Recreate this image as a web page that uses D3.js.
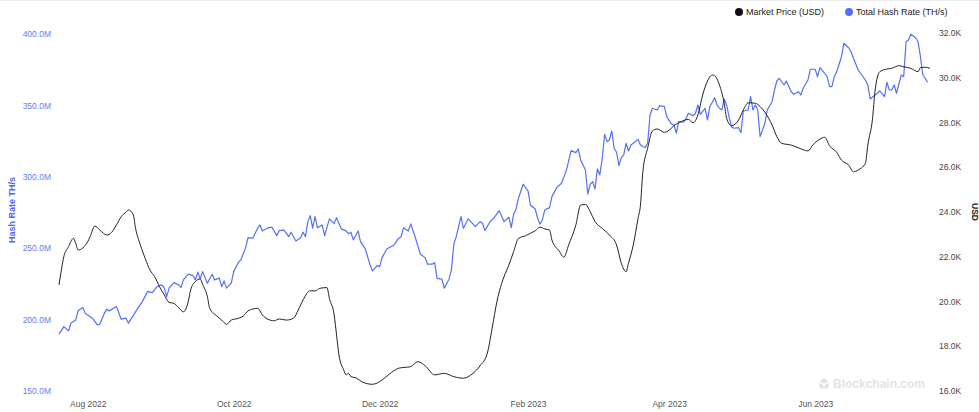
<!DOCTYPE html>
<html>
<head>
<meta charset="utf-8">
<script src="https://cdn.jsdelivr.net/npm/d3@7"></script>
<style>
  body { margin: 0; background: #fff; }
  svg { display: block; font-family: 'Liberation Sans', Arial, sans-serif; }
</style>
</head>
<body>
<svg id="chart" width="979" height="412"></svg>
<script>
// day offsets are counted from START (7-day averaged series)
const START = '2022-07-20'

const HASH_DAY = [0, 2, 4, 5, 7, 8, 10, 11, 14, 16, 17, 19, 20, 21, 24, 26, 28, 29, 31, 33, 35, 37, 39, 41, 43, 44, 45, 46, 48, 50, 51, 52, 54, 56, 57, 58, 59, 60, 62, 64, 65, 67, 68, 69, 70, 72, 73, 75, 76, 78, 79, 81, 83, 84, 85, 87, 89, 91, 92, 94, 96, 97, 99, 101, 102, 103, 104, 105, 106, 107, 108, 110, 111, 113, 115, 116, 118, 120, 121, 122, 123, 125, 126, 128, 130, 131, 133, 134, 135, 137, 140, 142, 143, 144, 146, 147, 149, 151, 153, 154, 156, 157, 158, 160, 161, 163, 164, 165, 166, 168, 169, 171, 174, 176, 177, 178, 180, 182, 184, 186, 188, 189, 190, 191, 192, 194, 196, 197, 199, 200, 201, 202, 203, 205, 206, 208, 210, 212, 213, 214, 216, 217, 218, 220, 221, 222, 223, 224, 225, 226, 227, 228, 229, 230, 231, 232, 233, 234, 235, 236, 237, 238, 239, 240, 242, 243, 245, 246, 247, 248, 250, 251, 253, 254, 256, 257, 258, 259, 261, 262, 263, 265, 266, 267, 268, 270, 271, 272, 274, 275, 276, 277, 278, 279, 280, 281, 282, 284, 285, 286, 288, 289, 290, 291, 292, 293, 295, 296, 298, 299, 300, 301, 303, 304, 306, 307, 309, 310, 311, 313, 314, 316, 317, 318, 320, 321, 322, 323, 324, 325, 327, 328, 330, 331, 332, 334, 337, 338, 339, 341, 342, 343, 345, 346, 347, 348, 349, 350, 352, 353, 354, 355, 356, 358, 359, 360, 361, 362, 363]

// Total Hash Rate, millions of TH/s
const HASH_VALUE = [189.8, 195.1, 192.1, 197.7, 199.8, 206.3, 208.4, 204.2, 201.0, 196.3, 196.8, 204.5, 207.3, 206.1, 209.1, 200.3, 201.0, 197.5, 202.8, 208.0, 213.1, 219.6, 218.9, 223.1, 224.3, 222.0, 216.1, 222.0, 225.9, 224.3, 222.4, 227.8, 231.8, 230.8, 227.8, 233.2, 228.5, 233.6, 225.5, 231.8, 227.8, 229.0, 223.1, 227.1, 222.0, 225.5, 233.6, 240.2, 241.8, 250.4, 257.4, 257.0, 264.0, 266.3, 262.1, 264.0, 264.7, 258.8, 262.3, 262.6, 258.1, 261.2, 255.1, 257.4, 261.2, 258.1, 268.6, 272.8, 264.0, 272.1, 264.4, 266.3, 258.8, 270.5, 267.2, 271.4, 263.5, 262.1, 260.1, 261.2, 255.8, 262.1, 254.6, 249.5, 238.3, 234.1, 237.8, 237.1, 243.4, 249.5, 252.3, 257.0, 258.1, 264.4, 262.1, 267.0, 257.0, 245.8, 243.4, 238.8, 238.8, 239.9, 228.9, 228.3, 222.0, 228.3, 234.8, 252.8, 258.1, 272.1, 264.0, 270.5, 265.1, 268.6, 267.5, 262.3, 268.2, 271.7, 276.3, 268.6, 271.7, 264.4, 273.8, 277.5, 285.0, 294.8, 290.1, 280.3, 277.5, 271.0, 266.8, 269.8, 276.8, 278.4, 286.1, 292.4, 295.5, 304.3, 311.1, 318.3, 316.9, 319.5, 311.8, 304.8, 287.8, 294.8, 296.6, 291.5, 305.5, 301.3, 312.5, 329.8, 324.6, 325.8, 332.1, 320.0, 317.2, 307.8, 313.4, 315.3, 323.5, 318.1, 322.3, 323.5, 326.2, 322.3, 320.4, 323.5, 343.3, 348.0, 346.8, 349.8, 349.1, 342.1, 336.8, 336.3, 330.5, 338.6, 338.2, 340.5, 344.5, 342.8, 344.5, 350.3, 343.8, 348.0, 339.8, 349.1, 355.4, 350.3, 348.0, 346.8, 354.5, 350.3, 342.1, 335.1, 334.0, 334.4, 330.9, 346.1, 346.8, 356.1, 346.8, 350.3, 346.8, 328.1, 337.5, 346.8, 352.6, 360.8, 367.1, 369.0, 364.3, 367.1, 359.6, 357.8, 359.6, 357.3, 362.0, 367.8, 375.3, 375.3, 370.1, 376.4, 372.5, 370.1, 363.1, 363.1, 370.1, 373.6, 384.1, 393.5, 390.4, 387.6, 383.0, 374.8, 367.8, 364.3, 354.5, 357.3, 358.5, 360.1, 356.1, 366.2, 360.8, 360.8, 364.3, 358.5, 371.3, 370.1, 394.6, 395.8, 399.8, 397.4, 394.6, 384.1, 371.3, 369.0, 366.2]

const PRICE_DAY = [0, 1, 2, 4, 6, 7, 8, 10, 12, 13, 15, 17, 20, 22, 24, 26, 28, 29, 31, 32, 34, 36, 38, 40, 42, 44, 46, 48, 50, 52, 54, 55, 57, 59, 60, 62, 63, 66, 68, 70, 72, 75, 77, 79, 81, 83, 85, 87, 90, 92, 95, 98, 100, 102, 105, 107, 109, 112, 113, 115, 116, 117, 119, 120, 121, 122, 124, 127, 131, 135, 138, 142, 147, 150, 153, 157, 161, 165, 169, 173, 176, 179, 181, 183, 185, 188, 190, 192, 195, 197, 199, 201, 203, 205, 206, 209, 211, 213, 216, 218, 220, 222, 224, 227, 230, 233, 235, 237, 238, 240, 242, 243, 244, 246, 248, 250, 253, 255, 257, 260, 263, 265, 267, 269, 271, 273, 274, 276, 278, 279, 281, 284, 286, 288, 291, 293, 295, 298, 300, 302, 306, 309, 313, 315, 318, 320, 322, 325, 327, 330, 332, 334, 337, 338, 340, 341, 343, 346, 348, 351, 353, 356, 359, 360, 362, 364]

// Market Price, thousands of USD
const PRICE_VALUE = [20.74, 21.41, 22.00, 22.45, 22.82, 22.60, 22.30, 22.40, 22.67, 22.90, 23.37, 23.20, 22.97, 23.09, 23.42, 23.79, 23.99, 24.09, 23.90, 23.27, 22.53, 21.93, 21.41, 21.11, 20.66, 20.29, 19.96, 19.92, 19.72, 19.54, 19.99, 20.51, 20.89, 21.01, 20.77, 20.22, 19.70, 19.35, 19.17, 18.98, 19.17, 19.25, 19.35, 19.58, 19.66, 19.70, 19.40, 19.22, 19.14, 19.22, 19.17, 19.25, 19.62, 20.07, 20.48, 20.47, 20.59, 20.62, 20.14, 19.40, 18.50, 17.61, 16.94, 16.72, 16.79, 16.64, 16.59, 16.39, 16.30, 16.49, 16.75, 17.02, 17.09, 17.31, 17.13, 16.72, 16.79, 16.64, 16.57, 16.79, 17.13, 17.69, 18.80, 19.99, 20.81, 21.63, 22.23, 22.82, 22.94, 23.05, 23.16, 23.32, 23.24, 23.20, 22.75, 22.26, 21.98, 22.53, 23.42, 24.31, 24.34, 24.01, 23.57, 23.27, 22.97, 22.53, 21.71, 21.33, 21.71, 22.53, 23.72, 24.31, 25.80, 26.85, 27.62, 27.71, 27.56, 27.66, 27.86, 28.04, 28.14, 27.99, 28.34, 29.23, 29.85, 30.12, 30.09, 29.68, 28.86, 28.19, 27.86, 28.11, 28.56, 28.88, 28.86, 28.71, 28.46, 27.89, 27.37, 27.07, 26.99, 26.87, 26.73, 26.99, 27.26, 27.34, 26.96, 26.67, 26.32, 26.10, 25.80, 25.88, 26.18, 26.99, 28.19, 29.38, 30.27, 30.39, 30.42, 30.54, 30.49, 30.42, 30.27, 30.45, 30.47, 30.42]

const HASH_TICKS = [150, 200, 250, 300, 350, 400]
const PRICE_TICKS = [16, 18, 20, 22, 24, 26, 28, 30, 32]
const MONTH_TICKS = ['2022-08-01', '2022-10-01', '2022-12-01', '2023-02-01', '2023-04-01', '2023-06-01']
const END = '2023-07-19'

const LEGEND = [
  { label: 'Market Price (USD)', color: '#111111' },
  { label: 'Total Hash Rate (TH/s)', color: '#5470f6' }
]

const BLUE = '#5470f6'
const width = 979, height = 412
const margin = { top: 34, right: 49, bottom: 21, left: 59 }

const svg = d3.select('#chart')
const parse = d3.utcParse('%Y-%m-%d')
const start = parse(START)

const hashData = HASH_DAY.map((d, i) => ({ date: d3.utcDay.offset(start, d), value: HASH_VALUE[i] }))
const priceData = PRICE_DAY.map((d, i) => ({ date: d3.utcDay.offset(start, d), value: PRICE_VALUE[i] }))

const x = d3.scaleUtc()
  .domain([start, parse(END)])
  .range([margin.left, width - margin.right])

const yHash = d3.scaleLinear().domain([150, 400]).range([height - margin.bottom, margin.top])
const yPrice = d3.scaleLinear().domain([16, 32]).range([height - margin.bottom, margin.top - 1])

svg.append('rect').attr('width', width).attr('height', height).attr('fill', '#fff')
svg.append('line').attr('x1', 0).attr('x2', width).attr('y1', 0.5).attr('y2', 0.5).attr('stroke', '#ececec')

// left axis
svg.append('g')
  .attr('transform', 'translate(51,0)')
  .call(d3.axisLeft(yHash).tickValues(HASH_TICKS).tickSize(0).tickPadding(0).tickFormat(d => d.toFixed(1) + 'M'))
  .call(g => g.select('.domain').remove())
  .call(g => g.selectAll('text').attr('fill', '#5f7bf6').style('font-size', '8.5px'))

// right axis
svg.append('g')
  .attr('transform', 'translate(939,0)')
  .call(d3.axisRight(yPrice).tickValues(PRICE_TICKS).tickSize(0).tickPadding(0).tickFormat(d => d.toFixed(1) + 'K'))
  .call(g => g.select('.domain').remove())
  .call(g => g.selectAll('text').attr('fill', '#444').style('font-size', '8.5px'))

// bottom axis
svg.append('g')
  .attr('transform', `translate(0,${height - 8})`)
  .call(d3.axisBottom(x).tickValues(MONTH_TICKS.map(parse)).tickSize(0).tickPadding(0).tickFormat(d3.utcFormat('%b %Y')))
  .call(g => g.select('.domain').remove())
  .call(g => g.selectAll('text').attr('fill', '#555').attr('dy', '0.32em').style('font-size', '8.5px'))

// axis titles
svg.append('text')
  .attr('transform', 'translate(15,210) rotate(-90)')
  .attr('text-anchor', 'middle')
  .attr('fill', '#4d69f4')
  .style('font-size', '9px')
  .style('font-weight', 'bold')
  .text('Hash Rate TH/s')

svg.append('text')
  .attr('transform', 'translate(972,212) rotate(90)')
  .attr('text-anchor', 'middle')
  .attr('fill', '#222')
  .style('font-size', '8.5px')
  .style('font-weight', 'bold')
  .text('USD')

// watermark
const wm = svg.append('g').attr('transform', 'translate(819,388)').attr('fill', '#e4e4e4')
wm.append('path').attr('d', 'M5,-10 L10,-7 L5,-4 L0,-7 Z M0,-5.5 L4.3,-3 L4.3,1.5 L0,-1 Z M10,-5.5 L5.7,-3 L5.7,1.5 L10,-1 Z')
wm.append('text').attr('x', 14).style('font-size', '12px').style('font-weight', 'bold').text('Blockchain.com')

// lines
svg.append('path')
  .datum(hashData)
  .attr('fill', 'none')
  .attr('stroke', BLUE)
  .attr('stroke-width', 1.2)
  .attr('stroke-linejoin', 'round')
  .attr('d', d3.line().x(d => x(d.date)).y(d => yHash(d.value)))

svg.append('path')
  .datum(priceData)
  .attr('fill', 'none')
  .attr('stroke', '#222')
  .attr('stroke-width', 1)
  .attr('d', d3.line().curve(d3.curveMonotoneX).x(d => x(d.date)).y(d => yPrice(d.value)))

// legend
const legend = svg.append('g').attr('transform', 'translate(735,12)')
let lx = 0
LEGEND.forEach(item => {
  const g = legend.append('g').attr('transform', `translate(${lx},0)`)
  g.append('circle').attr('cx', 4).attr('cy', 0).attr('r', 4).attr('fill', item.color)
  const t = g.append('text').attr('x', 11).attr('dy', '0.35em').attr('fill', '#222')
    .style('font-size', '9px').text(item.label)
  lx += 11 + t.node().getComputedTextLength() + 21
})
</script>
</body>
</html>
